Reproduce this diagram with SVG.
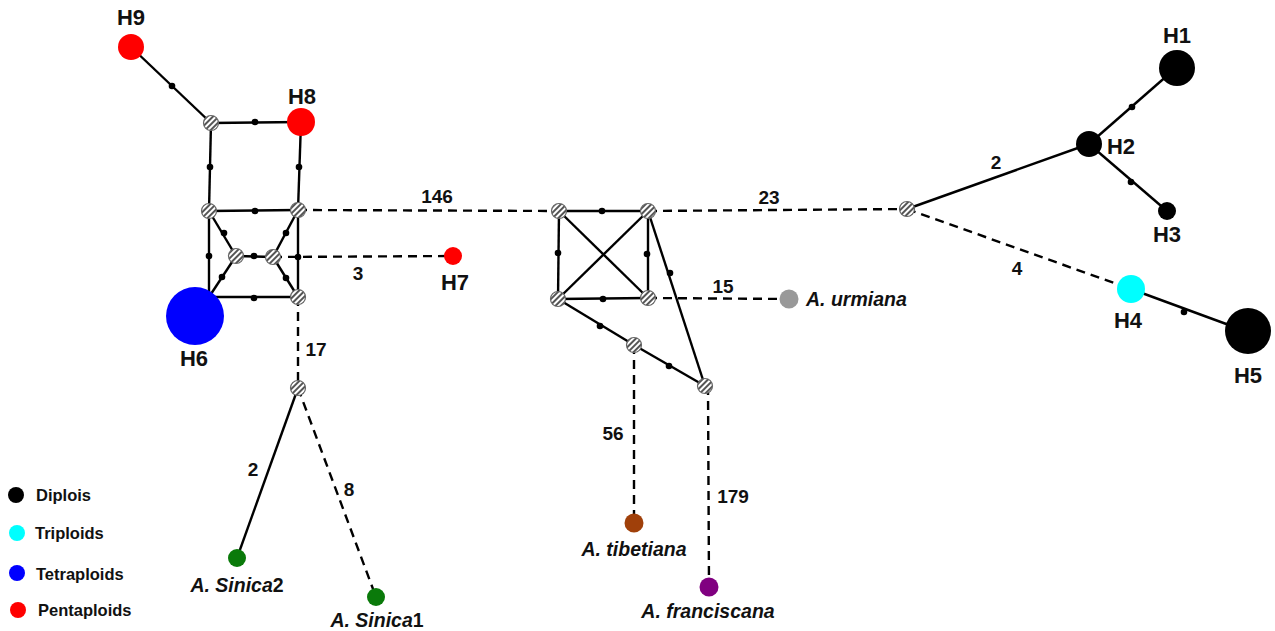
<svg xmlns="http://www.w3.org/2000/svg" width="1275" height="631" viewBox="0 0 1275 631">
<defs>
<pattern id="hatch" patternUnits="userSpaceOnUse" width="4" height="4" patternTransform="rotate(45)">
<rect width="4" height="4" fill="#ffffff"/>
<rect width="2" height="4" fill="#555555"/>
</pattern>
</defs>
<style>
.e{stroke:#000;stroke-width:2.4;fill:none}
.d{stroke:#000;stroke-width:2.4;fill:none;stroke-dasharray:9 6}
.m{fill:#000}
.hx{fill:url(#hatch);stroke:#666;stroke-width:1.2}
.t{font-family:"Liberation Sans",Arial,sans-serif;font-weight:bold;fill:#111}
.h{font-size:22px;text-anchor:middle}
.n{font-size:19px;text-anchor:middle}
.s{font-size:19.5px;font-style:italic;text-anchor:middle}
.lg{font-size:16.5px}
</style>
<rect width="1275" height="631" fill="#fff"/>
<g id="connectors">
<line class="e" x1="131" y1="47" x2="211" y2="123"/>
<line class="e" x1="211" y1="123" x2="301" y2="122"/>
<line class="e" x1="211" y1="123" x2="209" y2="211"/>
<line class="e" x1="301" y1="122" x2="298" y2="210"/>
<line class="e" x1="209" y1="211" x2="298" y2="210"/>
<line class="e" x1="209" y1="211" x2="209" y2="297"/>
<line class="e" x1="298" y1="210" x2="298" y2="297"/>
<line class="e" x1="209" y1="297" x2="298" y2="297"/>
<line class="e" x1="209" y1="211" x2="236" y2="256"/>
<line class="e" x1="236" y1="256" x2="209" y2="297"/>
<line class="e" x1="298" y1="210" x2="273" y2="257"/>
<line class="e" x1="273" y1="257" x2="298" y2="297"/>
<line class="e" x1="236" y1="256" x2="273" y2="257"/>
<line class="d" x1="273" y1="257" x2="453" y2="256"/>
<line class="d" x1="298" y1="210" x2="559" y2="211"/>
<line class="d" x1="298" y1="297" x2="298" y2="388"/>
<line class="e" x1="298" y1="388" x2="237" y2="558"/>
<line class="d" x1="298" y1="388" x2="376" y2="597"/>
<line class="e" x1="559" y1="211" x2="648" y2="211"/>
<line class="e" x1="559" y1="211" x2="558" y2="299"/>
<line class="e" x1="648" y1="211" x2="648" y2="298"/>
<line class="e" x1="558" y1="299" x2="648" y2="298"/>
<line class="e" x1="559" y1="211" x2="648" y2="298"/>
<line class="e" x1="648" y1="211" x2="558" y2="299"/>
<line class="e" x1="558" y1="299" x2="634" y2="345"/>
<line class="e" x1="634" y1="345" x2="705" y2="386"/>
<line class="e" x1="648" y1="211" x2="705" y2="386"/>
<line class="d" x1="648" y1="211" x2="907" y2="209"/>
<line class="d" x1="648" y1="298" x2="789" y2="299"/>
<line class="d" x1="634" y1="345" x2="634" y2="523"/>
<line class="d" x1="708" y1="386" x2="709" y2="587"/>
<line class="e" x1="907" y1="209" x2="1089" y2="144"/>
<line class="e" x1="1089" y1="144" x2="1177" y2="67"/>
<line class="e" x1="1089" y1="144" x2="1167" y2="211"/>
<line class="d" x1="907" y1="209" x2="1131" y2="289"/>
<line class="e" x1="1131" y1="289" x2="1248" y2="332"/>
<circle class="m" cx="172" cy="86" r="3.3"/>
<circle class="m" cx="255" cy="122" r="3.3"/>
<circle class="m" cx="210" cy="167" r="3.3"/>
<circle class="m" cx="299" cy="167" r="3.3"/>
<circle class="m" cx="255" cy="211" r="3.3"/>
<circle class="m" cx="209" cy="256" r="3.3"/>
<circle class="m" cx="298" cy="257" r="3.3"/>
<circle class="m" cx="254" cy="256" r="3.3"/>
<circle class="m" cx="254" cy="298" r="3.3"/>
<circle class="m" cx="224" cy="233" r="3.3"/>
<circle class="m" cx="222" cy="277" r="3.3"/>
<circle class="m" cx="286" cy="233" r="3.3"/>
<circle class="m" cx="286" cy="278" r="3.3"/>
<circle class="m" cx="602" cy="211" r="3.3"/>
<circle class="m" cx="558" cy="253" r="3.3"/>
<circle class="m" cx="647" cy="254" r="3.3"/>
<circle class="m" cx="603" cy="299" r="3.3"/>
<circle class="m" cx="600" cy="326" r="3.3"/>
<circle class="m" cx="669" cy="366" r="3.3"/>
<circle class="m" cx="670" cy="273" r="3.3"/>
<circle class="m" cx="1132" cy="107" r="3.3"/>
<circle class="m" cx="1131" cy="182" r="3.3"/>
<circle class="m" cx="1184" cy="312" r="3.3"/>
<text class="t n" x="437" y="203">146</text>
<text class="t n" x="769" y="204">23</text>
<text class="t n" x="358" y="280">3</text>
<text class="t n" x="316" y="356">17</text>
<text class="t n" x="253" y="476">2</text>
<text class="t n" x="349" y="496">8</text>
<text class="t n" x="723" y="293">15</text>
<text class="t n" x="613" y="440">56</text>
<text class="t n" x="733" y="503">179</text>
<text class="t n" x="996" y="169">2</text>
<text class="t n" x="1017" y="275">4</text>
</g>
<g id="H9"><circle cx="131" cy="47" r="13" fill="#ff0000"/><text class="t h" x="131" y="25">H9</text></g>
<g id="H8"><circle cx="301" cy="122" r="14" fill="#ff0000"/><text class="t h" x="302" y="104">H8</text></g>
<g id="H7"><circle cx="453" cy="256" r="9" fill="#ff0000"/><text class="t h" x="455" y="290">H7</text></g>
<g id="H6"><circle cx="195" cy="316" r="29" fill="#0000ff"/><text class="t h" x="194" y="366">H6</text></g>
<g id="H1"><circle cx="1177" cy="68" r="18" fill="#000"/><text class="t h" x="1177" y="43">H1</text></g>
<g id="H2"><circle cx="1089" cy="144" r="13" fill="#000"/><text class="t h" x="1121" y="154">H2</text></g>
<g id="H3"><circle cx="1167" cy="211" r="9" fill="#000"/><text class="t h" x="1167" y="242">H3</text></g>
<g id="H4"><circle cx="1131" cy="289" r="14" fill="#00ffff"/><text class="t h" x="1128" y="328">H4</text></g>
<g id="H5"><circle cx="1248" cy="331" r="23" fill="#000"/><text class="t h" x="1248" y="383">H5</text></g>
<g id="mv1"><circle class="hx" cx="211" cy="123" r="7.5"/></g>
<g id="mv2"><circle class="hx" cx="209" cy="211" r="7.5"/></g>
<g id="mv3"><circle class="hx" cx="298" cy="210" r="7.5"/></g>
<g id="mv4"><circle class="hx" cx="236" cy="256" r="7.5"/></g>
<g id="mv5"><circle class="hx" cx="273" cy="257" r="7.5"/></g>
<g id="mv6"><circle class="hx" cx="298" cy="297" r="7.5"/></g>
<g id="mv7"><circle class="hx" cx="298" cy="388" r="7.5"/></g>
<g id="mv8"><circle class="hx" cx="559" cy="211" r="7.5"/></g>
<g id="mv9"><circle class="hx" cx="648" cy="211" r="7.5"/></g>
<g id="mv10"><circle class="hx" cx="558" cy="299" r="7.5"/></g>
<g id="mv11"><circle class="hx" cx="648" cy="298" r="7.5"/></g>
<g id="mv12"><circle class="hx" cx="634" cy="345" r="7.5"/></g>
<g id="mv13"><circle class="hx" cx="705" cy="386" r="7.5"/></g>
<g id="mv14"><circle class="hx" cx="907" cy="209" r="7.5"/></g>
<g id="sinica2"><circle cx="237" cy="558" r="9" fill="#0a7a0a"/><text class="t s" x="237" y="592">A. Sinica<tspan font-style="normal">2</tspan></text></g>
<g id="sinica1"><circle cx="376" cy="597" r="9" fill="#0a7a0a"/><text class="t s" x="377" y="627">A. Sinica<tspan font-style="normal">1</tspan></text></g>
<g id="tibetiana"><circle cx="634" cy="523" r="9.5" fill="#a0400a"/><text class="t s" x="634" y="556">A. tibetiana</text></g>
<g id="franciscana"><circle cx="709" cy="587" r="9.5" fill="#800080"/><text class="t s" x="708" y="618">A. franciscana</text></g>
<g id="urmiana"><circle cx="789" cy="299" r="9.5" fill="#999999"/><text class="t s" x="806" y="306" style="text-anchor:start">A. urmiana</text></g>
<g id="legend">
<circle cx="16" cy="495" r="8" fill="#000"/><text class="t lg" x="36" y="501">Diplois</text>
<circle cx="17" cy="533" r="8" fill="#00ffff"/><text class="t lg" x="35" y="539">Triploids</text>
<circle cx="17" cy="573" r="8" fill="#0000ff"/><text class="t lg" x="36" y="580">Tetraploids</text>
<circle cx="18" cy="610" r="8" fill="#ff0000"/><text class="t lg" x="38" y="616">Pentaploids</text>
</g>
</svg>
